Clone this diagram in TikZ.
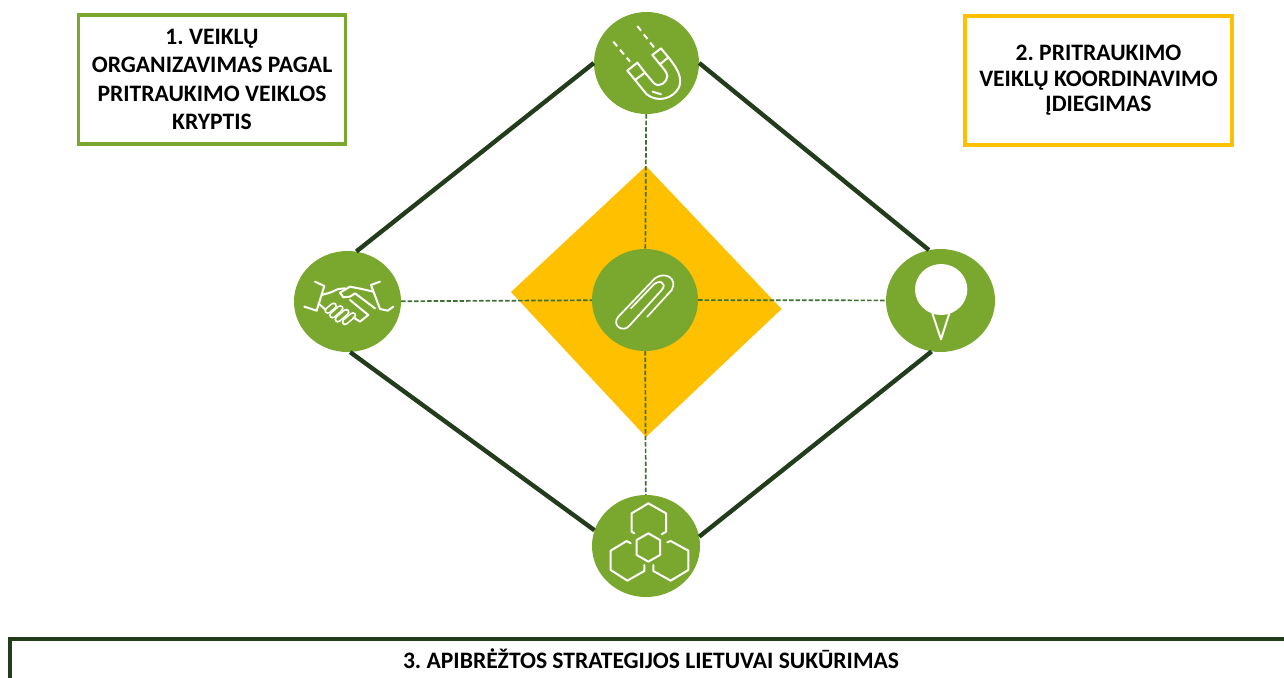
\documentclass[tikz,border=0pt]{standalone}
\usepackage{fontspec}
\setmainfont{Carlito}
\usetikzlibrary{shapes.geometric}
\frenchspacing
\definecolor{lime}{HTML}{7AA82E}
\definecolor{amber}{HTML}{FFC000}
\definecolor{darkg}{HTML}{233D1C}
\definecolor{dashg}{HTML}{3F7035}
\tikzset{
 hub/.style={ellipse,fill=lime,inner sep=0pt},
 frameb/.style={draw,line width=3.6pt,minimum width=267pt,minimum height=129pt,inner sep=0pt,align=center,text=black},
 rim/.style={draw=darkg,line width=4.4pt},
 dashln/.style={draw=dashg,line width=1.7pt,dash pattern=on 4.5pt off 2pt},
 ico/.style={draw=white,line width=2pt,line cap=round,line join=round,fill=none},
 icod/.style={ico,line cap=butt,dash pattern=on 6pt off 4.5pt},
 zoomed/.style={shift={(#1)},x=0.3333pt,y=-0.3333pt},
}
\begin{document}
\begin{tikzpicture}[x=1pt,y=-1pt]
\useasboundingbox (0,0) rectangle (1284,677);
\fill[white] (0,0) rectangle (1284,677);
\coordinate (dt) at (646,166);
\coordinate (dr) at (781.5,309);
\coordinate (db) at (646,437);
\coordinate (dl) at (511,292);
\fill[amber] (dt)--(dr)--(db)--(dl)--cycle;
\node[hub,minimum width=105pt,minimum height=102pt] (top) at (646.5,63) {};
\node[hub,minimum width=107pt,minimum height=101pt] (left) at (347.5,301.5) {};
\node[hub,minimum width=109pt,minimum height=103pt] (right) at (940.5,300.5) {};
\node[hub,minimum width=108pt,minimum height=102pt] (bot) at (646,546) {};
\node[hub,minimum width=106pt,minimum height=102pt] (mid) at (645,300) {};
\draw[rim] (top.west)--(left.80);
\draw[rim] (top.east)--(right.103);
\draw[rim] (bot.163)--(left.-87);
\draw[rim] (bot.10)--(right.-100);
\draw[dashln] (top)--(mid);
\draw[dashln] (mid)--(bot);
\draw[dashln] (left)--(mid);
\draw[dashln] (mid)--(right);
% boxes
\node[frameb,draw=lime,font=\fontsize{23.6}{28.2}\selectfont\bfseries] (b1) at (212,79.5) {1. VEIKLŲ\\ORGANIZAVIMAS PAGAL\\PRITRAUKIMO VEIKLOS\\KRYPTIS};
\node[frameb,draw=amber,font=\fontsize{23.6}{25.5}\selectfont\bfseries] (b2) at (1098.5,80.5) {2. PRITRAUKIMO\\VEIKLŲ KOORDINAVIMO\\ĮDIEGIMAS};
\draw[rim] (10,680)--(10,639)--(1290,639);
\node[font=\fontsize{23.6}{28}\selectfont\bfseries,inner sep=0pt] (b3) at (651,659) {3. APIBRĖŽTOS STRATEGIJOS LIETUVAI SUKŪRIMAS};
% magnet
\begin{scope}[zoomed={580,0}]
\draw[icod] (100,125)--(150,185);
\draw[icod] (172,78)--(222,142);
\draw[ico] (142,212)--(172,188)--(195,218)--(165,240)--cycle;
\draw[ico] (217,165)--(243,145)--(265,172)--(240,193)--cycle;
\draw[ico] (165,240)--(200,283) .. controls (235,310) and (280,295) .. (297,262) .. controls (307,235) and (295,208) .. (265,172);
\draw[ico] (195,218)--(222,250) .. controls (240,265) and (262,245) .. (262,228) .. controls (260,215) and (250,205) .. (240,193);
\draw[ico] (218,275)--(243,283);
\end{scope}
% handshake
\begin{scope}[zoomed={285,240}]
\draw[ico] (90,125)--(118,138)--(95,212)--(58,200);
\draw[ico] (285,125)--(258,135)--(285,207)--(308,212)--(325,200);
\draw[ico] (110,165)--(135,158)--(160,147)--(180,145);
\draw[ico] (265,155)--(235,148)--(195,140)--(165,158)--(175,172)--(195,170)--(210,160)--(270,205);
\draw[ico] (100,190)--(125,212);
\foreach \a/\b/\c/\d in {128/212/146/197,142/226/166/205,158/238/184/216,180/246/204/226}{
 \draw[draw=white,line width=6.6pt,line cap=round] (\a,\b)--(\c,\d);
 \draw[draw=lime,line width=3.4pt,line cap=round] (\a,\b)--(\c,\d);
}
\draw[ico] (195,180)--(250,225)--(225,245)--(205,232);
\end{scope}
% pin
\begin{scope}[zoomed={880,240}]
\fill[white] (183.5,148.5) ellipse (78.5 and 76.5);
\draw[ico] (157,220)--(183,298)--(208,220);
\end{scope}
% hexes
\begin{scope}[zoomed={580,485}]
\draw[ico] (163,145)--(155,140)--(155,85)--(205,55)--(258,85)--(258,140)--(245,148);
\draw[ico] (205,145)--(240,165)--(240,210)--(205,230)--(170,210)--(170,165)--cycle;
\draw[ico] (152,175)--(140,168)--(92,197)--(92,255)--(142,287)--(193,258)--(193,240);
\draw[ico] (262,172)--(272,168)--(325,197)--(325,255)--(272,287)--(220,258)--(220,240);
\end{scope}
% clip
\draw[ico,line width=1.7pt] (647.3,316.7)--(671.7,290) .. controls (678,278.3) and (665,271) .. (655,278.3)
 --(618.3,316.7) .. controls (611,325) and (623.3,334) .. (630,325)
 --(661.7,290) .. controls (668,282.7) and (658.3,278) .. (651.7,286.7)--(631,308.3);
\end{tikzpicture}
\end{document}
